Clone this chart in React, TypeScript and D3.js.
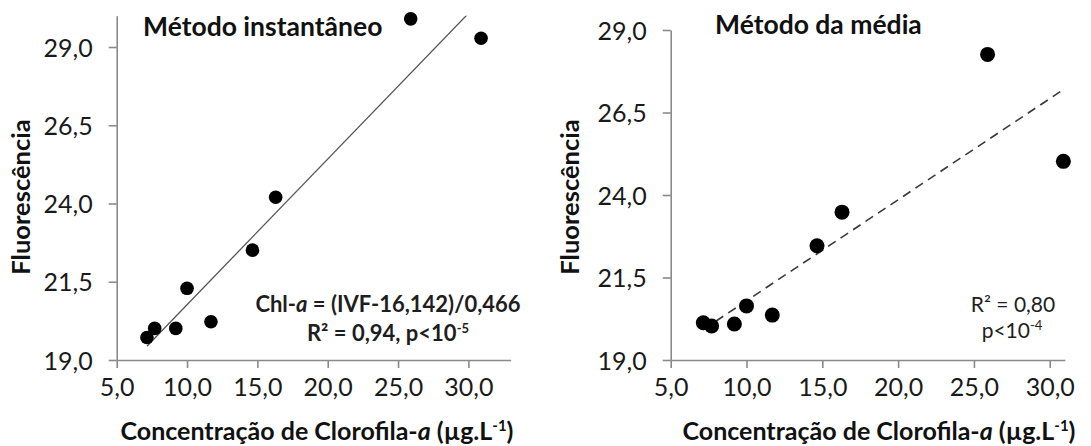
import React, { useEffect, useRef } from 'react';
import * as d3 from 'd3';

// concentração de clorofila-a (µg/L), mesmas amostras nos dois painéis
const concentracao = [7.15, 7.7, 9.2, 10.0, 11.7, 14.65, 16.3, 25.9, 30.9];
// fluorescência - método instantâneo
const fluorInstantaneo = [19.72, 20.01, 20.01, 21.29, 20.22, 22.51, 24.2, 29.9, 29.28];
// fluorescência - método da média
const fluorMedia = [20.13, 20.03, 20.09, 20.64, 20.36, 22.46, 23.48, 28.26, 25.02];

const xTicks = [5, 10, 15, 20, 25, 30];
const yTicks = [19, 21.5, 24, 26.5, 29];

const FONT = 'Lato, "Open Sans", sans-serif';
const fmt = (v: number) => v.toFixed(1).replace('.', ',');

// regressão linear simples (mínimos quadrados)
function fit(xs: number[], ys: number[]) {
  const mx = d3.mean(xs) as number;
  const my = d3.mean(ys) as number;
  const sxy = d3.sum(xs, (x, i) => (x - mx) * (ys[i] - my));
  const sxx = d3.sum(xs, x => (x - mx) * (x - mx));
  const slope = sxy / sxx;
  return { slope, intercept: my - slope * mx };
}

function drawPanel(svg: any, cfg: any) {
  const x = d3.scaleLinear().domain(cfg.xDomain).range(cfg.xRange);
  const y = d3.scaleLinear().domain(cfg.yDomain).range(cfg.yRange);
  const g = svg.append('g');

  const clipId = 'clip-' + cfg.id;
  svg.append('clipPath').attr('id', clipId)
    .append('rect')
    .attr('x', cfg.xRange[0]).attr('y', cfg.yRange[1])
    .attr('width', cfg.xRange[1] - cfg.xRange[0])
    .attr('height', cfg.yRange[0] - cfg.yRange[1]);

  // eixo x
  const xAxis = g.append('g')
    .attr('transform', `translate(0, ${cfg.yRange[0]})`)
    .call(d3.axisBottom(x).tickValues(xTicks).tickFormat(fmt as any).tickSize(8).tickPadding(10).tickSizeOuter(0));
  // eixo y
  const yAxis = g.append('g')
    .attr('transform', `translate(${cfg.xRange[0]}, 0)`)
    .call(d3.axisLeft(y).tickValues(yTicks).tickFormat(fmt as any).tickSize(8).tickPadding(16).tickSizeOuter(0));

  [xAxis, yAxis].forEach(a => {
    a.select('.domain').attr('stroke', '#8a8a8a').attr('stroke-width', 1.6);
    a.selectAll('.tick line').attr('stroke', '#8a8a8a').attr('stroke-width', 1.6);
    a.selectAll('.tick text')
      .style('font-family', FONT).style('font-size', '25px').attr('fill', '#1a1a1a');
  });
  yAxis.selectAll('.tick text').attr('dy', '0.36em');

  // linha de tendência
  const { slope, intercept } = fit(concentracao, cfg.values);
  const [x0, x1] = d3.extent(concentracao) as [number, number];
  g.append('path')
    .datum([x0, x1])
    .attr('clip-path', `url(#${clipId})`)
    .attr('d', d3.line<number>().x(d => x(d)).y(d => y(intercept + slope * d)))
    .attr('fill', 'none')
    .attr('stroke', cfg.dashed ? '#3a3a3a' : '#555')
    .attr('stroke-width', cfg.dashed ? 1.6 : 1.3)
    .attr('stroke-dasharray', cfg.dashed ? '9,6' : null);

  // pontos
  g.selectAll('circle.pt')
    .data(concentracao)
    .enter().append('circle')
    .attr('class', 'pt')
    .attr('cx', (d: number) => x(d))
    .attr('cy', (_: number, i: number) => y(cfg.values[i]))
    .attr('r', cfg.r)
    .attr('fill', '#000');

  // título do painel
  g.append('text')
    .attr('x', cfg.titleX).attr('y', cfg.titleY)
    .style('font-family', FONT).style('font-size', '26.5px').style('font-weight', 'bold')
    .attr('fill', '#111')
    .text(cfg.title);

  // título eixo y
  g.append('text')
    .attr('transform', `translate(${cfg.yTitleX}, 197) rotate(-90)`)
    .attr('text-anchor', 'middle')
    .style('font-family', FONT).style('font-size', '25.5px').style('font-weight', 'bold')
    .attr('fill', '#111')
    .text('Fluorescência');

  // título eixo x
  const xt = g.append('text')
    .attr('x', cfg.xTitleX).attr('y', 440)
    .attr('text-anchor', 'middle')
    .style('font-family', FONT).style('font-size', '25px').style('font-weight', 'bold')
    .attr('fill', '#111');
  xt.append('tspan').text('Concentração de Clorofila-');
  xt.append('tspan').style('font-style', 'italic').text('a');
  xt.append('tspan').text(' (µg.L');
  xt.append('tspan').attr('dy', -9).style('font-size', '15px').text('-1');
  xt.append('tspan').attr('dy', 9).text(')');

  // anotações
  cfg.notes.forEach((n: any) => {
    const t = g.append('text')
      .attr('x', n.x).attr('y', n.y)
      .attr('text-anchor', 'middle')
      .style('font-family', FONT).style('font-size', n.size)
      .style('font-weight', n.bold ? 'bold' : 'normal')
      .attr('fill', '#1e1e1e');
    n.parts.forEach((p: any) => {
      const s = t.append('tspan').text(p.t);
      if (p.i) s.style('font-style', 'italic');
      if (p.sup) s.attr('dy', -8).style('font-size', '13px');
    });
  });
}

const App = () => {
  const svgRef = useRef<SVGSVGElement>(null);

  useEffect(() => {
    const svg = d3.select(svgRef.current);
    svg.selectAll('*').remove();

    drawPanel(svg, {
      id: 'inst',
      values: fluorInstantaneo,
      xDomain: [5, 33], xRange: [116.7, 510.6],
      yDomain: [19, 30], yRange: [360, 15.7],
      dashed: false, r: 6.8,
      title: 'Método instantâneo', titleX: 143, titleY: 36,
      yTitleX: 30, xTitleX: 317,
      notes: [
        { x: 388, y: 312, size: '22px', bold: true,
          parts: [{ t: 'Chl-' }, { t: 'a', i: true }, { t: ' = (IVF-16,142)/0,466' }] },
        { x: 388, y: 341, size: '22px', bold: true,
          parts: [{ t: 'R² = 0,94, p<10' }, { t: '-5', sup: true }] },
      ],
    });

    drawPanel(svg, {
      id: 'media',
      values: fluorMedia,
      xDomain: [5, 31], xRange: [670.7, 1064.9],
      yDomain: [19, 29], yRange: [360, 30],
      dashed: true, r: 7.5,
      title: 'Método da média', titleX: 715, titleY: 34,
      yTitleX: 579, xTitleX: 879,
      notes: [
        { x: 1013, y: 312, size: '21px', bold: false,
          parts: [{ t: 'R² = 0,80' }] },
        { x: 1012, y: 338, size: '21px', bold: false,
          parts: [{ t: 'p<10' }, { t: '-4', sup: true }] },
      ],
    });
  }, []);

  return (
    <svg ref={svgRef} width={1091} height={446}
      style={{ position: 'absolute', left: 0, top: 0, background: '#fff' }} />
  );
};

export default App;
